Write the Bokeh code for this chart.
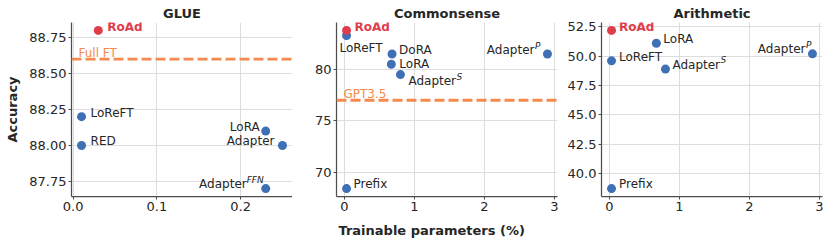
from bokeh.plotting import figure
from bokeh.layouts import row
from bokeh.models import Span, FixedTicker, NumeralTickFormatter, Range1d, Label, Title
from bokeh.embed import file_html
from bokeh.resources import INLINE

# ------------------------------------------------------------------ data
glue_names = ["RoAd", "LoReFT", "RED", "LoRA", "Adapter", "Adapter"]
glue_sups = ["", "", "", "", "", "FFN"]
glue_params = [0.03, 0.01, 0.01, 0.23, 0.25, 0.23]
glue_acc = [88.8, 88.2, 88.0, 88.1, 88.0, 87.7]
glue_ref_label = "Full FT"
glue_ref_value = 88.6
glue_xticks = [0.0, 0.1, 0.2]
glue_yticks = [87.75, 88.0, 88.25, 88.5, 88.75]

cs_names = ["RoAd", "LoReFT", "DoRA", "LoRA", "Adapter", "Adapter", "Prefix"]
cs_sups = ["", "", "", "", "S", "P", ""]
cs_params = [0.03, 0.03, 0.68, 0.67, 0.80, 2.90, 0.03]
cs_acc = [83.8, 83.3, 81.5, 80.5, 79.5, 81.5, 68.4]
cs_ref_label = "GPT3.5"
cs_ref_value = 77.0
cs_xticks = [0, 1, 2, 3]
cs_yticks = [70, 75, 80]

ar_names = ["RoAd", "LoRA", "LoReFT", "Adapter", "Adapter", "Prefix"]
ar_sups = ["", "", "", "S", "P", ""]
ar_params = [0.03, 0.67, 0.03, 0.80, 2.90, 0.03]
ar_acc = [52.2, 51.1, 49.6, 48.9, 50.2, 38.7]
ar_xticks = [0, 1, 2, 3]
ar_yticks = [40.0, 42.5, 45.0, 47.5, 50.0, 52.5]

HIGHLIGHT = "RoAd"

# ------------------------------------------------------------------ styles
FONT = "DejaVu Sans"
BLUE = "#3F6FB5"
RED = "#DE3D4B"
ORANGE = "#F68A4E"
TXT = "#262626"
SPINE = "#4d4d4d"
GRID = "#dddddd"
FRAME_W = 221
FIG_H = 246
TOP, BOTTOM = 22, 50

# label placement (pixels): dx, dy (up), alignment
glue_lab = [(9, 3, "left"), (9, 4, "left"), (9, 4, "left"),
            (-6, 4, "right"), (-8, 4.5, "right"), (-2, 4.5, "right")]
cs_lab = [(8, 3, "left"), (-7, -12.5, "left"), (7, 4, "left"), (8, 0, "left"),
          (8, -6.5, "left"), (-7, 4, "right"), (7, 4.5, "left")]
ar_lab = [(7.5, 3, "left"), (7, 4, "left"), (7.5, 4, "left"), (7, 4.5, "left"),
          (-1, 4.5, "right"), (7.5, 5, "left")]
MAIN_W = {"Adapter": 48}
SUP_W = {"FFN": 17, "S": 6, "P": 6}


def panel(title, names, sups, xs, ys, xticks, yticks, xfmt, yfmt, lab,
          bl, br, ref_label=None, ref_value=None, ylabel=None, xlabel=None):
    xpad = 0.05 * (max(xs) - min(xs))
    ypad = 0.05 * (max(ys) - min(ys))
    x0, x1 = min(xs) - xpad, max(xs) + xpad
    y0, y1 = min(ys) - ypad, max(ys) + ypad
    p = figure(width=bl + FRAME_W + br, height=FIG_H,
               x_range=Range1d(x0, x1), y_range=Range1d(y0, y1),
               output_backend="svg", toolbar_location=None,
               min_border_left=bl, min_border_right=br,
               min_border_top=TOP, min_border_bottom=BOTTOM)
    p.title.text = title
    p.title.align = "center"
    p.title.text_font = FONT
    p.title.text_font_size = "13px"
    p.title.text_font_style = "bold"
    p.title.text_color = TXT
    p.title.standoff = 3
    p.outline_line_color = None
    p.background_fill_color = "white"
    for g in (p.xgrid, p.ygrid):
        g.grid_line_color = GRID
        g.grid_line_width = 1
    p.xaxis.ticker = FixedTicker(ticks=xticks)
    p.yaxis.ticker = FixedTicker(ticks=yticks)
    p.xaxis.formatter = NumeralTickFormatter(format=xfmt)
    p.yaxis.formatter = NumeralTickFormatter(format=yfmt)
    for ax in (p.xaxis, p.yaxis):
        ax.axis_line_color = SPINE
        ax.axis_line_width = 1.25
        ax.major_tick_line_color = SPINE
        ax.major_tick_out = 3
        ax.major_tick_in = 0
        ax.minor_tick_line_color = None
        ax.major_label_text_font = FONT
        ax.major_label_text_font_size = "13px"
        ax.major_label_text_color = TXT
        ax.major_label_standoff = 2
    if ylabel:
        p.yaxis.axis_label = ylabel
        p.yaxis.axis_label_text_font = FONT
        p.yaxis.axis_label_text_font_size = "13px"
        p.yaxis.axis_label_text_font_style = "bold"
        p.yaxis.axis_label_text_color = TXT
        p.yaxis.axis_label_standoff = 6
    if xlabel:
        p.add_layout(Title(text=xlabel, align="left", offset=2, standoff=14,
                           text_font=FONT, text_font_size="13px", text_font_style="bold",
                           text_color=TXT), "below")

    if ref_value is not None:
        p.add_layout(Span(location=ref_value, dimension="width", line_color=ORANGE,
                          line_width=2.8, line_dash="10 4"))
        p.add_layout(Label(x=x0, y=ref_value, x_offset=7, y_offset=6.6, text=ref_label,
                           text_font=FONT, text_font_size="12px", text_color=ORANGE,
                           text_baseline="middle", text_align="left"))

    bx = [x for x, n in zip(xs, names) if n != HIGHLIGHT]
    by = [y for y, n in zip(ys, names) if n != HIGHLIGHT]
    hx = [x for x, n in zip(xs, names) if n == HIGHLIGHT]
    hy = [y for y, n in zip(ys, names) if n == HIGHLIGHT]
    p.scatter(bx, by, size=9, fill_color=BLUE, line_color=None)
    p.scatter(hx, hy, size=9, fill_color=RED, line_color=None)

    for n, s, x, y, (dx, dy, al) in zip(names, sups, xs, ys, lab):
        hl = n == HIGHLIGHT
        sw = SUP_W.get(s, 0)
        if al == "left":
            mx = dx
            sx = dx + MAIN_W.get(n, 0)
            sal = "left"
        else:
            mx = dx - sw
            sx = dx
            sal = "right"
        p.add_layout(Label(x=x, y=y, x_offset=mx, y_offset=dy, text=n,
                           text_font=FONT, text_font_size="12px",
                           text_font_style="bold" if hl else "normal",
                           text_color=RED if hl else TXT,
                           text_align=al, text_baseline="middle"))
        if s:
            p.add_layout(Label(x=x, y=y, x_offset=sx, y_offset=dy + 4.5, text=s,
                               text_font=FONT, text_font_size="9px",
                               text_font_style="italic", text_color=TXT,
                               text_align=sal, text_baseline="middle"))
    return p


p1 = panel("GLUE", glue_names, glue_sups, glue_params, glue_acc, glue_xticks, glue_yticks,
           "0.0", "0.00", glue_lab, 71, 0, glue_ref_label, glue_ref_value, ylabel="Accuracy")
p2 = panel("Commonsense", cs_names, cs_sups, cs_params, cs_acc, cs_xticks, cs_yticks,
           "0", "0", cs_lab, 44, 3, cs_ref_label, cs_ref_value,
           xlabel="Trainable parameters (%)")
p3 = panel("Arithmetic", ar_names, ar_sups, ar_params, ar_acc, ar_xticks, ar_yticks,
           "0", "0.0", ar_lab, 41, 3)

layout = row(p1, p2, p3, spacing=0)
open("out.html", "w").write(file_html(layout, INLINE))
